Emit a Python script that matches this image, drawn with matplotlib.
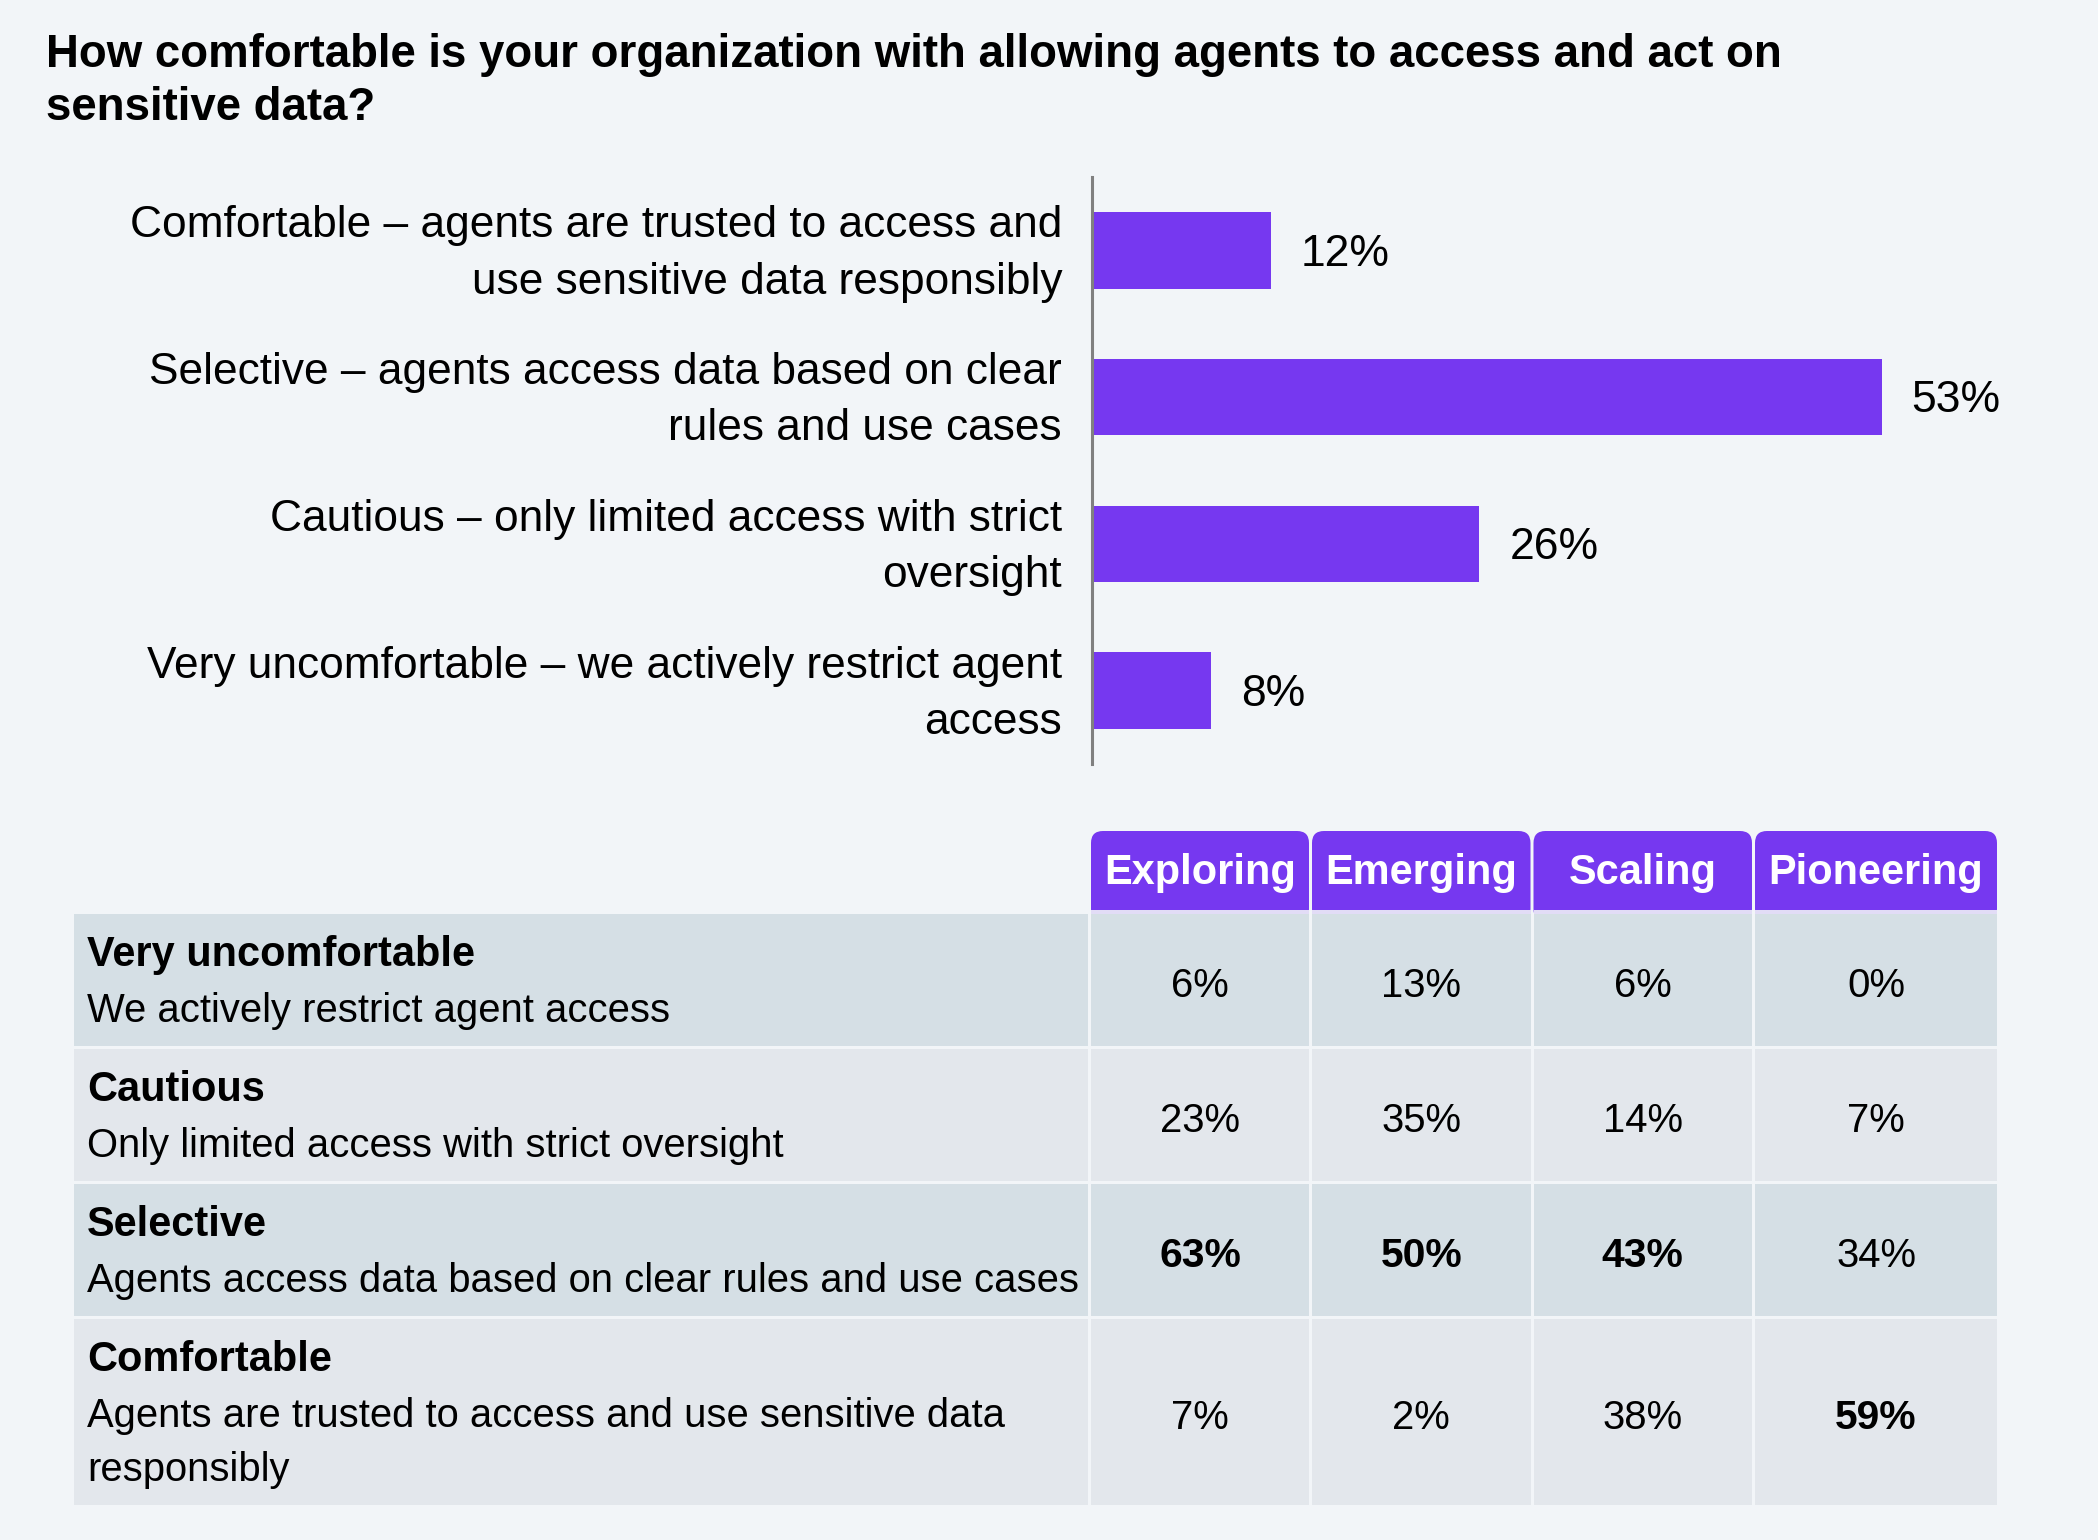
import matplotlib
matplotlib.use("Agg")
import matplotlib.pyplot as plt
from matplotlib.patches import Rectangle, FancyBboxPatch

plt.rcParams['font.family'] = ['Liberation Sans', 'DejaVu Sans']

# data
title = ("How comfortable is your organization with allowing agents to access and act on",
         "sensitive data?")
bar_labels = ["Comfortable – agents are trusted to access and\nuse sensitive data responsibly",
              "Selective – agents access data based on clear\nrules and use cases",
              "Cautious – only limited access with strict\noversight",
              "Very uncomfortable – we actively restrict agent\naccess"]
bar_values = [12, 53, 26, 8]

stages = ["Exploring", "Emerging", "Scaling", "Pioneering"]
row_names = ["Very uncomfortable", "Cautious", "Selective", "Comfortable"]
row_desc = ["We actively restrict agent access",
            "Only limited access with strict oversight",
            "Agents access data based on clear rules and use cases",
            "Agents are trusted to access and use sensitive data\nresponsibly"]
very_uncomfortable = [6, 13, 6, 0]
cautious = [23, 35, 14, 7]
selective = [63, 50, 43, 34]
comfortable = [7, 2, 38, 59]
table_values = [very_uncomfortable, cautious, selective, comfortable]

# colours
BG = '#f2f5f8'
PURPLE = '#7638f0'
ROW_A = '#d5dfe5'
ROW_B = '#e3e7ec'
TXT = '#000000'

W, H = 2098, 1540
fig = plt.figure(figsize=(W / 100, H / 100), dpi=100, facecolor=BG)

# pixel overlay for title and table
bg = fig.add_axes([0, 0, 1, 1])
bg.set_xlim(0, W)
bg.set_ylim(H, 0)
bg.axis('off')
bg.patch.set_alpha(0)

for i, line in enumerate(title):
    bg.text(46, 67 + i * 53, line, fontsize=32.9, fontweight='bold', color=TXT,
            ha='left', va='baseline')

# bar chart
ax = fig.add_axes([1092 / W, 1 - 764 / H, 894 / W, 587 / H])
ax.set_facecolor('none')
ypos = list(range(len(bar_values)))
ax.barh(ypos, bar_values, height=0.52, color=PURPLE)
ax.set_xlim(0, 60)
ax.set_ylim(3.5, -0.5)
ax.set_xticks([])
ax.set_yticks([])
for s in ['top', 'right', 'bottom']:
    ax.spines[s].set_visible(False)
ax.spines['left'].set_color('#808080')
ax.spines['left'].set_linewidth(2.2)

lab_fs = 31.9
for y, lab in zip(ypos, bar_labels):
    ax.annotate(lab, (0, y), xytext=(-21.6, -2.6), textcoords='offset points',
                fontsize=lab_fs, color=TXT, ha='right', va='center', linespacing=1.47)

val_fs = 32
for y, v in zip(ypos, bar_values):
    ax.annotate(f"{v}%", (v, y), xytext=(21.6, -0.716 * val_fs / 2 + 0.5),
                textcoords='offset points',
                fontsize=val_fs, color=TXT, ha='left', va='baseline')

# table layout
col_edges = [1089.5, 1310.5, 1532, 1753.5, 1998.5]
row_edges = [912, 1047, 1182, 1317, 1506]
left = 74
tab_top = 831

for j, name in enumerate(stages):
    x0, x1 = col_edges[j] + 1.5, col_edges[j + 1] - 1.5
    bg.add_patch(FancyBboxPatch((x0, tab_top), x1 - x0, 90,
                                boxstyle="round,pad=0,rounding_size=12",
                                fc=PURPLE, ec='none', zorder=1))
    bg.add_patch(Rectangle((x0, 909.5), x1 - x0, 4, fc='#e2dcf6', ec='none', zorder=2))
    bg.text((x0 + x1) / 2, 884, name, fontsize=29.9, fontweight='bold', color='white',
            ha='center', va='baseline', zorder=3)

col_max = [max(r[j] for r in table_values) for j in range(len(stages))]

for i, name in enumerate(row_names):
    top, bot = row_edges[i], row_edges[i + 1]
    fc = ROW_A if i % 2 == 0 else ROW_B
    bg.add_patch(Rectangle((left, top + 1.5), col_edges[0] - 1.5 - left, bot - top - 3,
                           fc=fc, ec='none', zorder=2))
    bg.text(87, top + 54, name, fontsize=29.9, fontweight='bold', color=TXT,
            ha='left', va='baseline', zorder=3)
    for k, line in enumerate(row_desc[i].split('\n')):
        bg.text(87, top + 110 + k * 54, line, fontsize=28.8, color=TXT,
                ha='left', va='baseline', zorder=3)
    yc = (top + bot) / 2
    for j, v in enumerate(table_values[i]):
        x0, x1 = col_edges[j] + 1.5, col_edges[j + 1] - 1.5
        bg.add_patch(Rectangle((x0, top + 1.5), x1 - x0, bot - top - 3,
                               fc=fc, ec='none', zorder=2))
        bold = v == col_max[j]
        fs = 29.4 if bold else 28.9
        cap = 0.716 * fs * 100 / 72
        bg.text((x0 + x1) / 2, yc + cap / 2 + 3, f"{v}%", fontsize=fs,
                fontweight='bold' if bold else 'normal', color=TXT,
                ha='center', va='baseline', zorder=3)

fig.savefig('out.png', dpi=100, facecolor=BG)
